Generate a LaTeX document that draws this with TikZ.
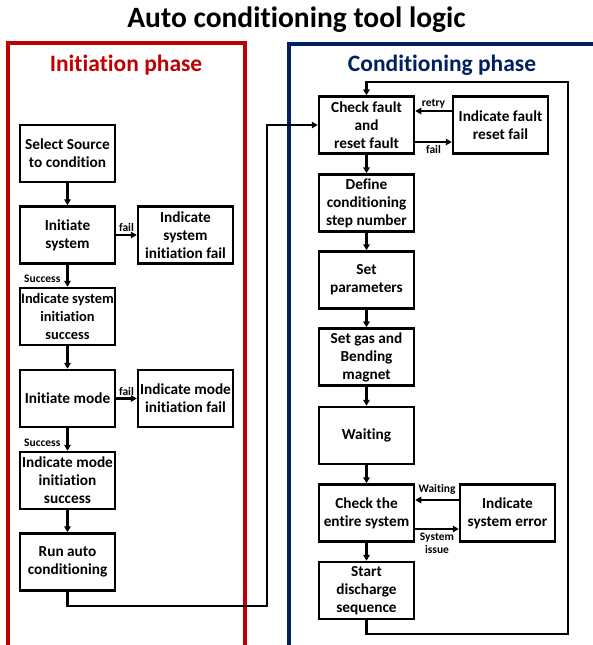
\documentclass[tikz,border=0pt]{standalone}
\usepackage{fontspec}
\setmainfont{Carlito}[Ligatures=NoCommon]
\usetikzlibrary{arrows.meta}
\definecolor{phred}{HTML}{C00000}
\definecolor{phblue}{HTML}{002060}
\tikzset{
  stepbox/.style={draw=black, line width=2.5pt, minimum width=95pt, minimum height=57pt,
    inner sep=1pt, align=center, font=\fontsize{15.3}{18}\selectfont\bfseries},
  arr/.style={line width=2.2pt, -{Triangle[length=6pt,width=6.5pt]}},
  lbl/.style={font=\fontsize{11.5}{12}\selectfont\bfseries, inner sep=2pt, align=center},
  phase/.style={line width=3.5pt},
}
\begin{document}
\begin{tikzpicture}[x=1pt,y=-1pt]
\useasboundingbox (0,0) rectangle (593,645);
\clip (0,0) rectangle (593,645);
\node (title) at (296.5,20) {\fontsize{29.5}{32}\selectfont\bfseries Auto conditioning tool logic};
\draw[phase, phred] (8,43) rectangle (245,680);
\draw[phase, phblue] (289,44) rectangle (620,680);
\node[text=phred, font=\fontsize{23.5}{26}\selectfont\bfseries] (ip) at (126,65) {Initiation phase};
\node[text=phblue, font=\fontsize{23.5}{26}\selectfont\bfseries] (cp) at (442,65) {Conditioning phase};
% left column
\node[stepbox] (sel) at (67.5,153.5) {Select Source\\to condition};
\node[stepbox] (is) at (67.5,235) {Initiate\\system};
\node[stepbox] (isf) at (185.5,235) {Indicate\\system\\initiation fail};
\node[stepbox, font=\fontsize{14.4}{18}\selectfont\bfseries] (iss) at (67.5,316.5) {Indicate system\\initiation\\success};
\node[stepbox] (im) at (67.5,398.5) {Initiate mode};
\node[stepbox] (imf) at (185.5,398.5) {Indicate mode\\initiation fail};
\node[stepbox] (ims) at (67.5,480.5) {Indicate mode\\initiation\\success};
\node[stepbox] (run) at (67.5,562) {Run auto\\conditioning};
% right column
\node[stepbox] (chk) at (366.5,125) {Check fault\\and\\reset fault};
\node[stepbox] (ifr) at (500.5,125) {Indicate fault\\reset fail};
\node[stepbox] (def) at (366.5,203) {Define\\conditioning\\step number};
\node[stepbox] (par) at (366.5,280) {Set\\parameters};
\node[stepbox] (gas) at (366.5,357) {Set gas and\\Bending\\magnet};
\node[stepbox] (wai) at (366.5,435.5) {Waiting};
\node[stepbox] (cse) at (366.5,513) {Check the\\entire system};
\node[stepbox] (ise) at (507.5,513) {Indicate\\system error};
\node[stepbox] (sds) at (366.5,590.5) {Start\\discharge\\sequence};
% left connectors
\draw[arr] (sel) -- (is);
\draw[arr] (is) -- node[lbl, above] {fail} (isf);
\draw[arr] (is) -- node[lbl, left=4pt, yshift=-3pt] {Success} (iss);
\draw[arr] (iss) -- (im);
\draw[arr] (im) -- node[lbl, above] {fail} (imf);
\draw[arr] (im) -- node[lbl, left=4pt, yshift=-3pt] {Success} (ims);
\draw[arr] (ims) -- (run);
\coordinate (j1) at (267,606);
\draw[arr] (run.south) |- (j1) |- (chk.west);
% right connectors
\draw[arr] ([yshift=14pt]ifr.west) -- node[lbl, above] {retry} ([yshift=14pt]chk.east);
\draw[arr] ([yshift=-17pt]chk.east) -- node[lbl, below] {fail} ([yshift=-17pt]ifr.west);
\draw[arr] (chk) -- (def);
\draw[arr] (def) -- (par);
\draw[arr] (par) -- (gas);
\draw[arr] (gas) -- (wai);
\draw[arr] (wai) -- (cse);
\draw[arr] ([yshift=13pt]ise.west) -- node[lbl, above=2pt] {Waiting} ([yshift=13pt]cse.east);
\draw[arr] ([yshift=-16pt]cse.east) -- node[lbl, below=1pt, font=\fontsize{11.5}{13}\selectfont\bfseries] {System\\issue} ([yshift=-16pt]ise.west);
\draw[arr] (cse) -- (sds);
\coordinate (l1) at (568,634);
\coordinate (l2) at (568,82);
\draw[arr] (sds.south) |- (l1) -- (l2) -| (chk.north);
\end{tikzpicture}
\end{document}
